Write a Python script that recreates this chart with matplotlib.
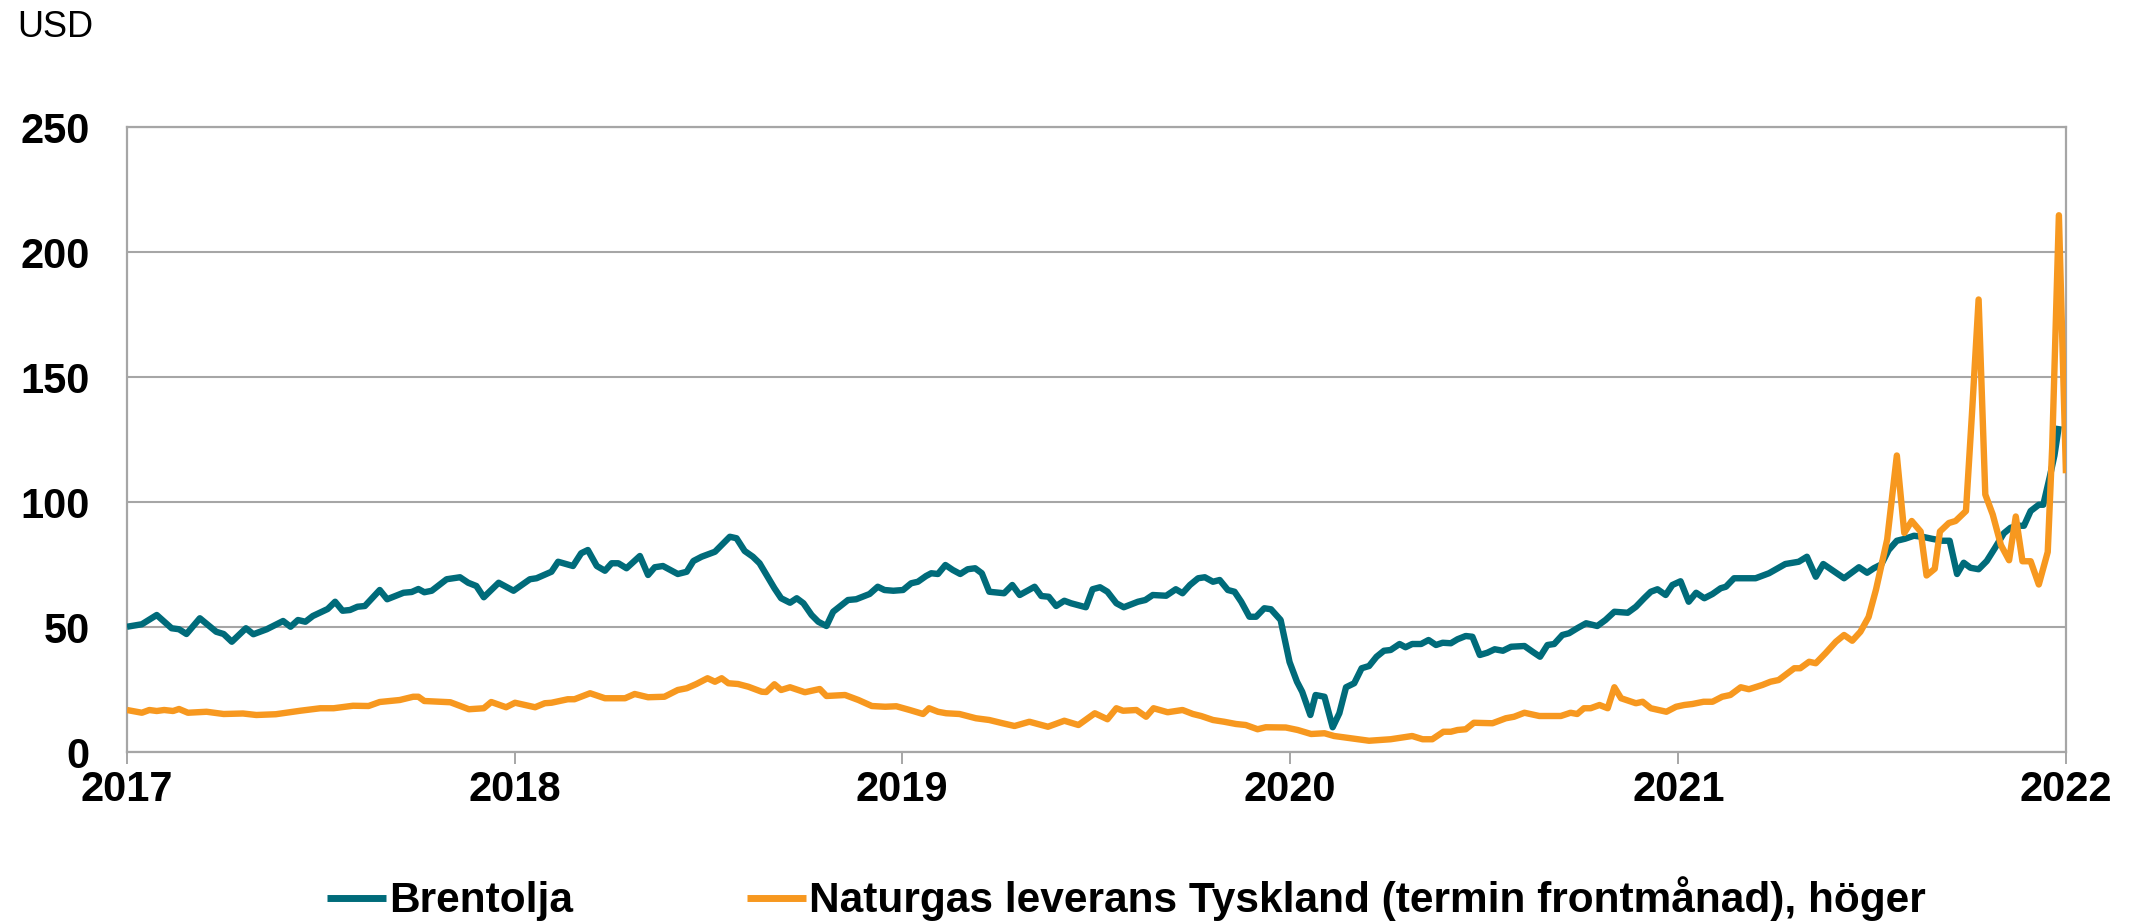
import numpy as np
import matplotlib
matplotlib.use("Agg")
import matplotlib.pyplot as plt

plt.rcParams['font.family'] = ['Liberation Sans', 'DejaVu Sans']

# ---- data (week offsets from 2017-01-01, values in USD) ----
brent_week = [0, 2, 4, 6, 7, 8, 9.8, 12, 13, 14.1, 16, 17, 18.8, 21, 22, 23, 24, 25, 27, 28,
              29, 30, 31, 32, 34, 35, 37.2, 38.3, 39.2, 40, 41, 43, 44.8, 45.9, 47, 48, 50, 52,
              54.2, 55.1, 57.1, 58.0, 60.0, 61.1, 62.0, 63.2, 64.3, 65.2, 66.1, 67.2, 69.0, 70.1,
              71.0, 72.1, 74.1, 75.3, 76.2, 77.3, 79.1, 81.1, 82.0, 83.1, 84.2, 85.1, 87.1, 88.0,
              89.2, 90.1, 91.0, 92.1, 93.0, 94.1, 95.0, 97.0, 98.1, 99.9, 101.0, 101.9, 103.1,
              104.4, 105.5, 106.4, 107.5, 108.2, 109.1, 110.1, 111.1, 112.1, 113.1, 114.1, 115.0,
              116.0, 118.0, 119.1, 120.1, 122.1, 123.0, 124.0, 125.0, 126.1, 127.0, 129.0, 129.9,
              130.9, 131.9, 133.1, 134.1, 136.0, 137.0, 138.0, 139.8, 141.1, 142.0, 143.0, 144.1,
              145.0, 146.1, 147.0, 148.1, 149.0, 149.9, 151.0, 151.9, 153.0, 153.9, 155.2, 156.4,
              157.4, 158.1, 159.2, 159.9, 161.1, 162.2, 163.1, 164.0, 165.1, 166.1, 167.1, 168.1,
              169.1, 170.0, 171.2, 172.0, 172.9, 174.1, 175.1, 176.1, 177.0, 178.1, 179.0, 180.1,
              181.0, 182.0, 183.0, 184.0, 185.1, 186.2, 188.0, 189.1, 190.1, 191.1, 192.0, 193.1,
              194.0, 195.1, 196.3, 197.8, 198.9, 200.1, 201.9, 203.0, 204.1, 205.0, 205.9, 207.0,
              207.9, 209.0, 210.1, 211.1, 212.2, 213.3, 214.4, 215.1, 216.2, 219.1, 220.9, 223.1,
              224.9, 226.0, 227.2, 228.2, 231.0, 233.0, 234.1, 235.0, 236.0, 237.0, 238.1, 239.2,
              240.4, 241.7, 242.8, 244.2, 245.2, 246.2, 247.1, 248.0, 249.1, 250.2, 251.3, 252.5,
              253.4, 254.5, 255.2, 256.1, 257.2, 257.8, 258.7, 259.3, 259.9]
brent_usd = [50.1, 51.1, 54.8, 49.5, 49.1, 47.2, 53.5, 48.1, 47.2, 44.1, 49.5, 47.1, 49.1, 52.4,
             50.1, 52.8, 52.1, 54.4, 57.2, 60.1, 56.5, 56.8, 58.1, 58.4, 64.8, 61.1, 63.7, 64.0,
             65.2, 63.9, 64.5, 69.1, 69.9, 67.7, 66.4, 61.9, 67.7, 64.5,
             69.1, 69.5, 72.1, 76.1, 74.4, 79.5, 80.8, 74.4, 72.5, 75.5, 75.5, 73.5, 78.4, 70.8,
             73.9, 74.4, 71.2, 72.1, 76.4, 78.1, 80.1, 86.1, 85.5, 80.4, 78.1, 75.5, 65.5, 61.5,
             59.7, 61.5, 59.5, 54.8, 52.1, 50.4, 56.1, 60.8, 61.1, 63.2, 66.1, 64.8, 64.5,
             64.8, 67.5, 68.1, 70.4, 71.5, 71.2, 74.8, 72.8, 71.2, 73.1, 73.5, 71.5,
             64.1, 63.5, 66.8, 62.8, 66.1, 62.4, 62.1, 58.4, 60.5, 59.5, 57.9, 65.1,
             65.9, 64.1, 59.5, 57.9, 60.1, 60.8, 62.8, 62.5, 65.1, 63.5, 66.8, 69.5,
             69.9, 68.1, 68.8, 64.8, 64.1, 60.1, 54.1, 54.1, 57.5, 57.1, 52.8, 36.0,
             28.1, 24.1, 14.8, 22.8, 22.1, 9.9, 15.5, 25.9, 27.5, 33.5, 34.4, 38.1,
             40.5, 40.8, 43.2, 41.9, 43.2, 43.2, 44.8, 42.8, 43.7, 43.5, 45.1, 46.4,
             46.1, 38.8, 39.7, 41.1, 40.5, 42.1, 42.4, 40.1, 38.1, 42.8, 43.2, 46.8,
             47.5, 49.5, 51.5, 50.4, 52.8, 56.1, 55.7, 58.1, 61.5, 64.1, 65.1, 62.8,
             66.8, 68.3, 60.1, 63.7, 61.5, 63.2, 65.5, 66.1, 69.5, 69.5, 71.5, 75.2,
             76.1, 78.1, 70.1, 75.2, 69.5, 73.9, 71.7, 73.5, 75.0, 80.8, 84.5, 85.3,
             86.5, 86.0, 85.3, 84.5, 84.5, 71.2, 75.7, 73.7, 73.1, 76.4, 81.6, 87.5,
             89.7, 90.5, 90.5, 96.4, 98.9, 98.9, 110.4, 118.6, 130.4]

gas_week = [0, 2, 3, 4, 5, 6.2, 7, 8.2, 10.7, 13, 15.6, 17.4, 20, 23.3, 26, 27.8, 30.4, 32.5, 34,
            36.7, 38.5, 39.2, 40, 43.5, 46, 48, 49, 51, 52.2, 54.9, 56.2, 57.1, 59.3, 60.2, 62.3,
            64.3, 67.0, 68.3, 70.1, 72.3, 74.1, 75.3, 76.6, 78.1, 79.1, 80.0, 80.9, 82.2, 83.6,
            85.4, 86.0, 87.1, 88.0, 89.2, 91.2, 93.2, 94.1, 96.6, 98.4, 100.2, 102.0, 103.5,
            105.3, 107.1, 107.9, 109.1, 110.2, 112.0, 114.2, 116.0, 117.8, 119.4, 121.4, 123.9,
            126.1, 128.0, 130.2, 131.9, 133.1, 134.0, 135.8, 137.1, 138.1, 140.0, 142.0, 143.4,
            144.5, 146.1, 147.6, 149.2, 150.5, 152.1, 153.2, 155.9, 157.5, 159.3, 161.1, 162.4,
            164.6, 167.1, 170.0, 172.9, 174.3, 175.6, 177.1, 178.1, 179.0, 180.1, 181.2, 183.7,
            185.5, 186.6, 188.0, 190.0, 192.9, 194.2, 195.1, 196.0, 196.9, 198.1, 199.2, 200.1,
            201.0, 203.0, 203.9, 205.0, 207.1, 208.4, 209.5, 210.6, 212.1, 213.3, 214.6, 215.7,
            217.1, 218.2, 220.0, 221.1, 222.2, 224.3, 225.1, 226.3, 227.2, 228.5, 229.9, 231.0,
            232.1, 233.2, 234.3, 235.3, 236.8, 238.1, 239.1, 240.1, 241.3, 242.1, 243.2, 243.9,
            245.1, 246.0, 247.4, 248.2, 249.1, 250.0, 251.0, 252.1, 253.2, 254.1, 255.0, 256.1,
            257.2, 258.4, 259.0, 259.9, 260.85]
gas_val = [16.8, 15.7, 16.8, 16.4, 16.8, 16.4, 17.2, 15.7, 16.1, 15.2, 15.4, 14.8, 15.1, 16.5,
           17.5, 17.5, 18.5, 18.4, 20.0, 20.8, 22.1, 22.1, 20.4, 19.9, 17.1, 17.5, 20.0, 17.9,
           19.7, 17.9, 19.5, 19.7, 21.1, 21.1, 23.5, 21.5, 21.5, 23.2, 21.9, 22.1, 24.8, 25.5,
           27.2, 29.5, 28.1, 29.5, 27.5, 27.2, 26.1, 24.1, 24.0, 27.1, 24.8, 25.9, 23.9, 25.2,
           22.4, 22.8, 20.8, 18.4, 18.1, 18.3, 16.8, 15.2, 17.5, 16.1, 15.5, 15.2, 13.5, 12.8,
           11.5, 10.4, 12.1, 10.1, 12.5, 10.8, 15.5, 13.1, 17.5, 16.5, 16.8, 14.1, 17.5, 15.9,
           16.8, 15.2, 14.4, 12.8, 12.1, 11.2, 10.8, 9.1, 9.9, 9.8, 8.8, 7.2, 7.5, 6.4, 5.5,
           4.5, 5.1, 6.4, 5.1, 5.1, 8.1, 8.1, 8.8, 9.1, 11.7, 11.5, 13.5, 14.1, 15.7, 14.4,
           14.4, 15.7, 15.2, 17.5, 17.5, 18.8, 17.5, 25.9, 21.5, 19.5, 20.1, 17.5, 16.1, 18.1,
           18.8, 19.2, 20.1, 20.1, 22.1, 22.8, 25.9, 25.1, 26.8, 28.1, 28.8, 33.5, 33.5, 36.1,
           35.5, 39.5, 44.1, 46.8, 44.5, 48.1, 54.0, 65.0, 85.0, 118.6, 87.6, 92.4, 88.2, 70.6,
           73.3, 88.2, 91.6, 92.4, 96.4, 135.0, 181.0, 103.0, 95.0, 82.8, 76.7, 94.2, 76.3,
           76.3, 67.0, 80.0, 122.0, 214.7, 111.5]

years = [2017, 2018, 2019, 2020, 2021, 2022]
y_ticks = [0, 50, 100, 150, 200, 250]
labels = ["Brentolja", "Naturgas leverans Tyskland (termin frontmånad), höger"]

TEAL = "#006B7A"
ORANGE = "#F7981F"
GRID = "#A6A6A6"

base = np.datetime64("2017-01-01T00:00")
def to_dates(weeks):
    return base + np.round(np.asarray(weeks) * 7 * 24 * 60).astype("timedelta64[m]")

fig = plt.figure(figsize=(21.38, 9.21), dpi=100)
ax = fig.add_axes([127/2138, 1 - 752/921, (2066-127)/2138, (752-127)/921])

ax.plot(to_dates(brent_week), brent_usd, color=TEAL, lw=4.6, label=labels[0],
        solid_joinstyle="round", solid_capstyle="butt", zorder=3)
ax.plot(to_dates(gas_week), gas_val, color=ORANGE, lw=4.6, label=labels[1],
        solid_joinstyle="round", solid_capstyle="butt", zorder=4)

ax.set_ylim(0, 250)
ax.set_xlim(np.datetime64("2017-01-01"), np.datetime64("2022-01-01"))
ax.set_yticks(y_ticks)
ax.set_yticklabels([str(v) for v in y_ticks], fontsize=30, fontweight="bold")
ax.set_xticks([np.datetime64(f"{y}-01-01") for y in years])
ax.set_xticklabels([str(y) for y in years], fontsize=30, fontweight="bold")
ax.tick_params(axis="y", length=0, pad=27)
ax.tick_params(axis="x", length=8.6, width=1.4, color=GRID, pad=4, direction="out")

ax.grid(axis="y", color=GRID, lw=1.5, zorder=0)
ax.set_axisbelow(True)
for s in ax.spines.values():
    s.set_color(GRID)
    s.set_linewidth(1.6)

fig.text(17/2138, 1 - 37/921, "USD", fontsize=26, ha="left", va="baseline")

leg = fig.legend(loc="center left", bbox_to_anchor=(327/2138, 1 - 899/921), ncol=2,
                 frameon=False, prop={"size": 30.5, "weight": "bold"},
                 handlelength=1.39, handletextpad=0.08, columnspacing=4.1,
                 borderpad=0, borderaxespad=0)
for h in leg.get_lines():
    h.set_linewidth(5)

fig.savefig("out.png", dpi=100)
